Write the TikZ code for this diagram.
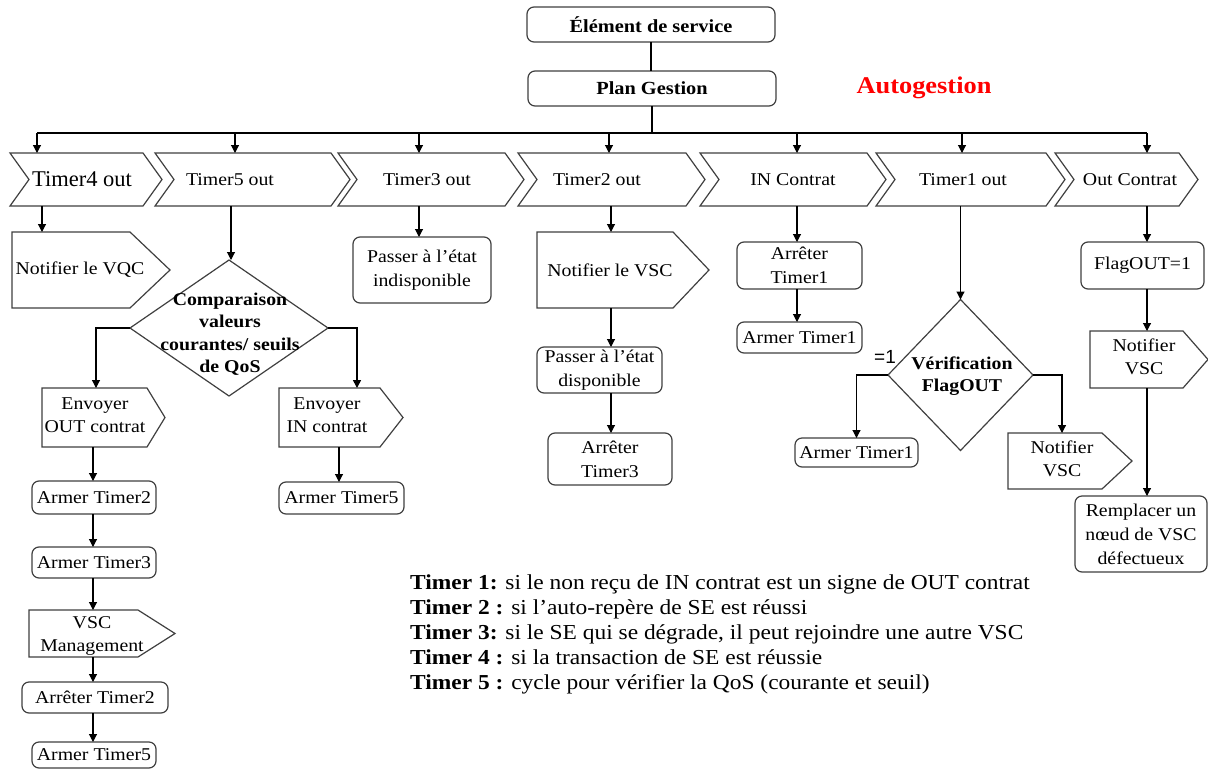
\documentclass[tikz,border=0pt]{standalone}
\usepackage{fontspec}
\setmainfont{LiberationSerif-Regular.ttf}[BoldFont=LiberationSerif-Bold.ttf, FakeStretch=1.1]
\newfontfamily\plainserif{LiberationSerif-Regular.ttf}[BoldFont=LiberationSerif-Bold.ttf]
\newfontfamily\arialf{Liberation Sans}
\usetikzlibrary{arrows.meta,calc}
\tikzset{
  shp/.style={draw=black!75, line width=1.2pt},
  rbox/.style={shp, rounded corners=7pt, inner sep=0pt, outer sep=0pt, align=center, font=\fontsize{18}{24}\selectfont},
  area/.style={inner sep=0pt, outer sep=0pt},
  lbl/.style={inner sep=0pt, align=center, font=\fontsize{18}{23}\selectfont},
  blbl/.style={inner sep=0pt, align=center, font=\bfseries\fontsize{18}{22.5}\selectfont},
  arr/.style={draw=black, line width=1.1pt, -{Triangle[length=8pt,width=8pt]}},
  ln/.style={draw=black, line width=1.1pt},
}
\newcommand\chev[5]{%
  \node[area, minimum width={#3-#2}, minimum height=53] (#1) at ({(#2+#3)/2},179.5) {};
  \draw[shp] (#1.north west) -- ([xshift=-19pt]#1.north east) -- (#1.east) -- ([xshift=-19pt]#1.south east) -- (#1.south west) -- ([xshift=19pt]#1.west) -- cycle;
  \node[lbl] (#1-t) at (#4,179.5) {#5};}
\newcommand\pent[6]{%
  \node[area, minimum width={#3-#2}, minimum height={#5-#4}] (#1) at ({(#2+#3)/2},{(#4+#5)/2}) {};
  \draw[shp] (#1.north west) -- (#1.north east) -- ([xshift={(#6)-(#3)}]#1.east) -- (#1.south east) -- (#1.south west) -- cycle;}
\newcommand\rb[6]{%
  \node[rbox, minimum width={#3-#2}, minimum height={#5-#4}] (#1) at ({(#2+#3)/2},{(#4+#5)/2}) {#6};}
\newcommand\dia[5]{%
  \node[area, minimum width=#4, minimum height=#5] (#1) at (#2,#3) {};
  \draw[shp] (#1.north) -- (#1.east) -- (#1.south) -- (#1.west) -- cycle;}
\begin{document}
\begin{tikzpicture}[x=1pt,y=-1pt]
\fill[white] (0,0) rectangle (1208,769);
\useasboundingbox (0,0) rectangle (1208,769);

% top
\node[rbox, font=\bfseries\fontsize{18.5}{22}\selectfont, minimum width=248, minimum height=35] (elem) at (651,24.5) {Élément de service};
\node[rbox, font=\bfseries\fontsize{18.5}{22}\selectfont, minimum width=248, minimum height=35] (plan) at (652,88.5) {Plan Gestion};
\node[inner sep=0pt, text=red, font=\bfseries\fontsize{24}{28}\selectfont] (auto) at (924,88) {Autogestion};
\draw[ln] (elem.south) -- (elem.south |- plan.north);
\coordinate (bus) at (652,133);
\coordinate (busL) at (37,133);
\coordinate (busR) at (1147,133);
\draw[ln] (plan.south) -- (bus);
\draw[ln] (busL) -- (busR);

% chevrons
\chev{t4}{10}{162}{82}{\plainserif\fontsize{22.5}{26}\selectfont Timer4 out}
\chev{t5}{155}{350}{230}{Timer5 out}
\chev{t3}{338}{524}{427}{Timer3 out}
\chev{t2}{518}{705}{597}{Timer2 out}
\chev{tin}{700}{886}{793}{IN Contrat}
\chev{t1}{876}{1065}{963}{Timer1 out}
\chev{tout}{1055}{1198}{1130}{Out Contrat}

\coordinate (b4) at (37,133);
\coordinate (b5) at (235,133);
\coordinate (b3) at (419,133);
\coordinate (b2) at (609,133);
\coordinate (bin) at (797,133);
\coordinate (b1) at (962,133);
\draw[arr] (b4) -- (b4 |- t4.north);
\draw[arr] (b5) -- (b5 |- t5.north);
\draw[arr] (b3) -- (b3 |- t3.north);
\draw[arr] (b2) -- (b2 |- t2.north);
\draw[arr] (bin) -- (bin |- tin.north);
\draw[arr] (b1) -- (b1 |- t1.north);
\draw[arr] (busR) -- (busR |- tout.north);

% Timer4 column
\pent{p4}{12}{130}{232}{308}{170}
\node[lbl] (p4-t) at (80,270) {Notifier le VQC};
\coordinate (c4) at (42,0);
\draw[arr] (c4 |- t4.south) -- (c4 |- p4.north);

% Timer5 column
\dia{d5}{229}{328}{198}{136}
\node[blbl] (d5-t) at (230,334) {Comparaison\\valeurs\\courantes/ seuils\\de QoS};
\coordinate (c5) at (231,0);
\draw[arr] (c5 |- t5.south) -- (c5 |- d5.north);

\pent{eo}{42}{147}{388}{447}{165}
\node[lbl] (eo-t) at (95,415) {Envoyer\\OUT contrat};
\pent{ei}{279}{380}{388}{447}{403}
\node[lbl] (ei-t) at (327,415) {Envoyer\\IN contrat};
\coordinate (cl5) at (96,0);
\coordinate (cr5) at (357,0);
\draw[arr] (d5.west) -| (cl5 |- eo.north);
\draw[arr, line width=1.6pt] (d5.east) -| (cr5 |- ei.north);

\rb{a2}{32}{156}{481}{514}{Armer Timer2}
\rb{a3}{32}{156}{547}{578}{Armer Timer3}
\pent{vm}{29}{138}{610}{657}{175}
\node[lbl] (vm-t) at (92,636) {VSC\\Management};
\rb{ar2}{22}{168}{682}{713}{Arrêter Timer2}
\rb{a5b}{32}{156}{742}{768}{Armer Timer5}
\coordinate (cc) at (93,0);
\draw[arr] (cc |- eo.south) -- (cc |- a2.north);
\draw[arr] (cc |- a2.south) -- (cc |- a3.north);
\draw[arr] (cc |- a3.south) -- (cc |- vm.north);
\draw[arr] (cc |- vm.south) -- (cc |- ar2.north);
\draw[arr] (cc |- ar2.south) -- (cc |- a5b.north);

\rb{a5}{279}{404}{482}{514}{Armer Timer5}
\coordinate (ci) at (339,0);
\draw[arr] (ci |- ei.south) -- (ci |- a5.north);

% Timer3 column
\rb{pi}{353}{491}{237}{303}{Passer à l’état\\indisponible}
\coordinate (c3) at (419,0);
\draw[arr] (c3 |- t3.south) -- (c3 |- pi.north);

% Timer2 column
\pent{nv}{537}{673}{232}{308}{709}
\node[lbl] (nv-t) at (610,270) {Notifier le VSC};
\rb{pd}{537}{662}{347}{393}{Passer à l’état\\disponible}
\rb{at3}{548}{672}{433}{485}{Arrêter\\Timer3}
\coordinate (c2) at (611,0);
\draw[arr] (c2 |- t2.south) -- (c2 |- nv.north);
\draw[arr] (c2 |- nv.south) -- (c2 |- pd.north);
\draw[arr] (c2 |- pd.south) -- (c2 |- at3.north);

% IN Contrat column
\rb{at1}{737}{862}{242}{289}{Arrêter\\Timer1}
\rb{am1}{737}{862}{322}{353}{Armer Timer1}
\coordinate (cin) at (797,0);
\draw[arr] (cin |- tin.south) -- (cin |- at1.north);
\draw[arr] (cin |- at1.south) -- (cin |- am1.north);

% Timer1 column
\dia{d1}{960.5}{375}{145}{151}
\node[blbl] (d1-t) at (962,376) {Vérification\\FlagOUT};
\coordinate (c1) at (960.5,0);
\draw[arr] (c1 |- t1.south) -- (c1 |- d1.north);
\node[inner sep=0pt, font=\arialf\fontsize{19}{22}\selectfont] (eq1) at (885,357) {=1};
\rb{am1b}{795}{918}{438}{467}{Armer Timer1}
\draw[arr] (d1.west) -| (am1b.north);
\pent{nv2}{1008}{1102}{433}{489}{1132}
\node[lbl] (nv2-t) at (1062,459) {Notifier\\VSC};
\coordinate (cr1) at (1062,0);
\draw[arr] (d1.east) -| (cr1 |- nv2.north);

% Out Contrat column
\rb{fo}{1081}{1204}{242}{289}{FlagOUT=1}
\pent{nv3}{1090}{1183}{331}{388}{1208}
\node[lbl] (nv3-t) at (1144,357) {Notifier\\VSC};
\rb{rp}{1075}{1207}{496}{572}{Remplacer un\\nœud de VSC\\défectueux}
\coordinate (co) at (1147,0);
\draw[arr] (co |- tout.south) -- (co |- fo.north);
\draw[arr] (co |- fo.south) -- (co |- nv3.north);
\draw[arr] (co |- nv3.south) -- (co |- rp.north);

% legend
\node[inner sep=0pt, anchor=west, align=left, font=\fontsize{21.3}{25}\selectfont] (leg) at (410,634)
 {\textbf{Timer 1:} si le non reçu de IN contrat est un signe de OUT contrat\\
  \textbf{Timer 2 :} si l’auto-repère de SE est réussi\\
  \textbf{Timer 3:} si le SE qui se dégrade, il peut rejoindre une autre VSC\\
  \textbf{Timer 4 :} si la transaction de SE est réussie\\
  \textbf{Timer 5 :} cycle pour vérifier la QoS (courante et seuil)};
\end{tikzpicture}
\end{document}
